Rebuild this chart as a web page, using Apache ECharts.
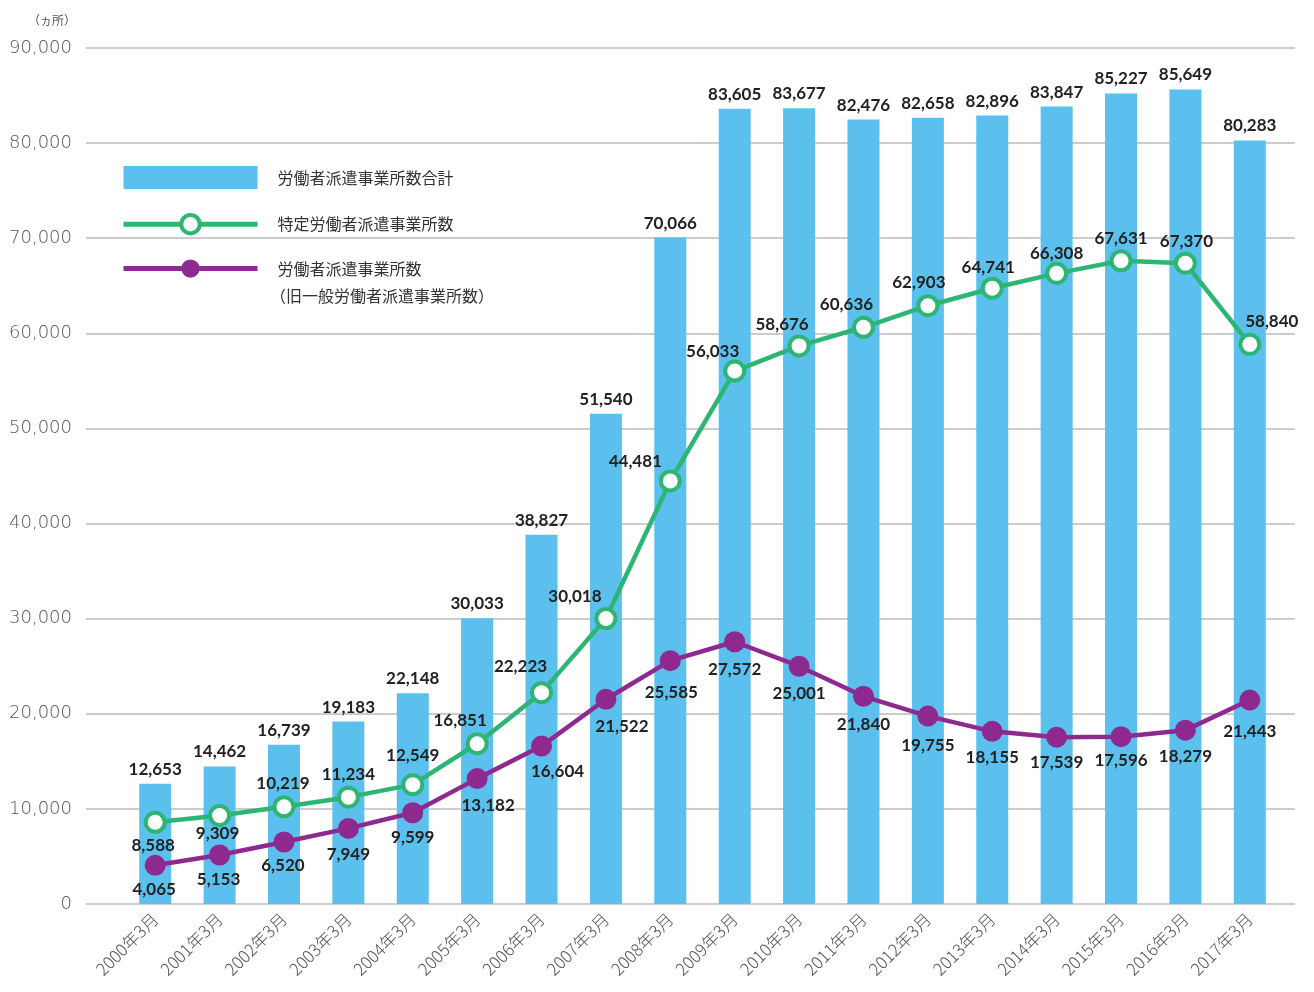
<!DOCTYPE html>
<html><head><meta charset="utf-8">
<script src="https://cdn.jsdelivr.net/npm/echarts@6/dist/echarts.min.js"></script>
<style>html,body{margin:0;padding:0;background:#fff}#c{width:1314px;height:992px}</style>
</head><body><div id="c"></div>
<script>
var categories = ['2000年3月','2001年3月','2002年3月','2003年3月','2004年3月','2005年3月','2006年3月','2007年3月','2008年3月','2009年3月','2010年3月','2011年3月','2012年3月','2013年3月','2014年3月','2015年3月','2016年3月','2017年3月'];
var totalValues = [12653,14462,16739,19183,22148,30033,38827,51540,70066,83605,83677,82476,82658,82896,83847,85227,85649,80283];
var specificValues = [8588,9309,10219,11234,12549,16851,22223,30018,44481,56033,58676,60636,62903,64741,66308,67631,67370,58840];
var generalValues = [4065,5153,6520,7949,9599,13182,16604,21522,25585,27572,25001,21840,19755,18155,17539,17596,18279,21443];
var seriesNames = ['労働者派遣事業所数合計','特定労働者派遣事業所数','労働者派遣事業所数'];
var legendNote = '（旧一般労働者派遣事業所数）';
var unitLabel = '（ヵ所）';

// label offsets (style only)
var greenOff = [[-2,23],[-2,18],[-1,-23],[0,-23],[0,-29],[-17,-23],[-21,-26],[-31,-22],[-35,-19],[-22,-20],[-17,-21],[-17,-23],[-9,-23],[-4,-21],[0,-20],[0,-22],[1,-22],[22,-23]];
var purpleOff = [[-1,24],[-1,25],[-1,24],[0,26],[0,25],[11,27],[16,25],[16,27],[1,32],[0,28],[0,27],[0,28],[0,29],[0,26],[0,25],[0,24],[0,26],[0,31]];

var numFont = 'Lato, "Noto Sans", sans-serif';
var jpFont = '"Noto Sans CJK JP", sans-serif';
function fmt(v){return v.toLocaleString('en-US');}
function lineData(vals, offs){
  return vals.map(function(v,i){return {value:v,label:{offset:offs[i]}};});
}
var lblStyle = {show:true,position:'inside',color:'#222',fontSize:17,fontWeight:'bold',fontFamily:numFont,formatter:function(p){return fmt(p.value);}};
var GREEN = '#2DB673', PURPLE = '#8E2A8F', BLUE = '#5BC0EE';

var chart = echarts.init(document.getElementById('c'));
chart.setOption({
  backgroundColor:'#fff',
  animation:false,
  grid:[
    {left:86,right:19,top:48,bottom:88},
    {left:123,right:32,top:48,bottom:88}
  ],
  xAxis:[
    {gridIndex:0,type:'value',show:false,min:0,max:1},
    {gridIndex:1,type:'category',data:categories,boundaryGap:true,
     axisLine:{show:false},axisTick:{show:false},
     axisLabel:{rotate:45,interval:0,margin:12,color:'#555',fontSize:17,fontWeight:300,fontFamily:jpFont}}
  ],
  yAxis:[
    {gridIndex:0,type:'value',min:0,max:90000,interval:10000,
     axisLine:{show:false},axisTick:{show:false},
     axisLabel:{margin:14,color:'#555',fontSize:18,fontFamily:'"DejaVu Sans", sans-serif',fontWeight:200,formatter:function(v){return fmt(v);}},
     splitLine:{lineStyle:{color:'#bbb',width:1.5}},
     name:unitLabel,nameLocation:'end',nameGap:22,
     nameTextStyle:{color:'#555',fontSize:12,align:'right',padding:[0,10,0,0],fontFamily:jpFont}},
    {gridIndex:1,type:'value',min:0,max:90000,interval:10000,show:false,splitLine:{show:false}}
  ],
  legend:{
    left:116,top:161,orient:'vertical',itemWidth:134,itemHeight:23,itemGap:24,
    textStyle:{color:'#333',fontSize:16,fontFamily:jpFont,padding:[0,0,0,15]},
    data:[
      {name:seriesNames[0],icon:'rect'},
      {name:seriesNames[1],lineStyle:{width:5,color:GREEN},itemStyle:{borderWidth:4,borderColor:GREEN,color:'#fff'}},
      {name:seriesNames[2],lineStyle:{width:5,color:PURPLE},itemStyle:{color:PURPLE}}
    ]
  },
  graphic:[
    {type:'text',left:270,top:288,style:{text:legendNote,fill:'#333',font:'16px "Noto Sans CJK JP", sans-serif'}}
  ],
  series:[
    {name:seriesNames[0],type:'bar',xAxisIndex:1,yAxisIndex:1,data:totalValues,barWidth:32,
     itemStyle:{color:BLUE},
     label:{show:true,position:'top',distance:6,color:'#222',fontSize:17,fontWeight:'bold',fontFamily:numFont,formatter:function(p){return fmt(p.value);}}},
    {name:seriesNames[1],type:'line',xAxisIndex:1,yAxisIndex:1,data:lineData(specificValues,greenOff),
     symbol:'circle',symbolSize:19,lineStyle:{color:GREEN,width:4.5},
     itemStyle:{color:'#fff',borderColor:GREEN,borderWidth:4},
     label:lblStyle,z:3},
    {name:seriesNames[2],type:'line',xAxisIndex:1,yAxisIndex:1,data:lineData(generalValues,purpleOff),
     symbol:'circle',symbolSize:21,lineStyle:{color:PURPLE,width:4.5},
     itemStyle:{color:PURPLE},
     label:lblStyle,z:4}
  ]
});
</script></body></html>
